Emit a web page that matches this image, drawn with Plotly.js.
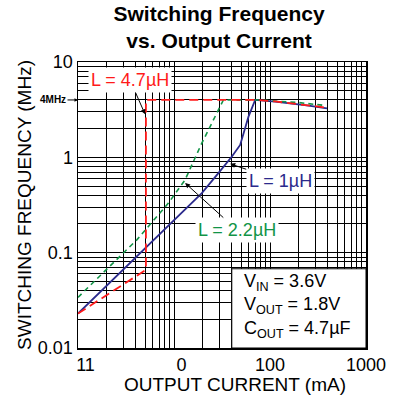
<!DOCTYPE html>
<html>
<head>
<meta charset="utf-8">
<script src="https://cdn.plot.ly/plotly-3.0.1.min.js"></script>
<style>html,body{margin:0;padding:0;background:#fff;}#chart{width:399px;height:402px;}</style>
</head>
<body>
<div id="chart"></div>
<script>
// ---- data ----
const current_1uH = [1, 6.16, 13.05, 19.5, 29.0, 40.1, 48.9, 59.7, 70.1, 113, 252, 392];
const freq_1uH    = [0.023, 0.137, 0.282, 0.422, 0.683, 1.02, 1.35, 2.67, 4.0, 3.84, 3.49, 3.27];

const current_2_2uH = [1, 4.12, 8.74, 13.05, 19.5, 24.8, 32.7, 75, 200, 376];
const freq_2_2uH    = [0.034, 0.137, 0.331, 0.581, 1.41, 2.28, 4.0, 4.0, 3.75, 3.5];

const current_4_7uH = [1, 4.65, 5.1, 5.1, 75, 113, 252, 392];
const freq_4_7uH    = [0.023, 0.063, 0.066, 4.0, 4.0, 3.86, 3.53, 3.32];

const xTickVals = [1, 10, 100, 1000];
const xTickText = ["\u00a0\u00a0\u00a011", "\u00a0\u00a0\u00a00", "100", "1000"];
const yTickVals = [0.01, 0.1, 1, 10];
const yTickText = ["0.01", "0.1", "1", "10"];
const digits = [2, 3, 4, 5, 6, 7, 8, 9];

// arrow targets (data units: mA, MHz)
const arrow47 = {x: 5.0, y: 2.83};
const arrow22 = {x: 13.06, y: 0.537};
const arrow10 = {x: 38.5, y: 0.855};
const arrow4M = {x: 1, y: 4};

// ---- minor grid positions: digits 2..9 inside each decade ----
function minorTicks(vals) {
  const tv = [];
  vals.slice(0, -1).forEach(v => digits.forEach(d => tv.push(v * d)));
  return tv;
}

const FONT = 'Liberation Sans, Arial, Helvetica, sans-serif';
const RED = '#ff1a1a', GREEN = '#129447', BLUE = '#2b2a8c';

const traces = [
  {x: current_1uH, y: freq_1uH, type: 'scatter', mode: 'lines',
   line: {color: BLUE, width: 1.8}, hoverinfo: 'skip'},
  {x: current_2_2uH, y: freq_2_2uH, type: 'scatter', mode: 'lines',
   line: {color: GREEN, width: 1.6, dash: '5px,4px'}, hoverinfo: 'skip'},
  {x: current_4_7uH, y: freq_4_7uH, type: 'scatter', mode: 'lines',
   line: {color: RED, width: 1.8, dash: '9px,5px'}, hoverinfo: 'skip'}
];

function lg(v) { return Math.log10(v); }
// label with an arrow pointing at a curve; ax/ay = pixel offset of the label from the arrow tip
function arrowLabel(text, p, ax, ay, color, opts) {
  return Object.assign({x: lg(p.x), y: lg(p.y), xref: 'x', yref: 'y', text: text, showarrow: true,
          ax: ax, ay: ay, axref: 'pixel', ayref: 'pixel', arrowhead: 2,
          arrowsize: 1, arrowwidth: 1, arrowcolor: '#000', standoff: 0,
          bgcolor: '#fff', borderpad: 2,
          font: {family: FONT, size: 18, color: color}}, opts || {});
}

function axisCommon(vals, text) {
  return {type: 'log', tickmode: 'array', tickvals: vals, ticktext: text,
          showgrid: true, gridcolor: '#000', gridwidth: 1, zeroline: false,
          minor: {tickmode: 'array', tickvals: minorTicks(vals), showgrid: true,
                  gridcolor: '#000', gridwidth: 1, ticks: ''},
          showline: true, linecolor: '#000', linewidth: 1.5, mirror: true, ticks: '',
          tickfont: {family: FONT, size: 18, color: '#000'}};
}

const xaxis = Object.assign(axisCommon(xTickVals, xTickText), {range: [0, 3]});
const yaxis = Object.assign(axisCommon(yTickVals, yTickText), {
  range: [-2, 1],
  title: {text: 'SWITCHING FREQUENCY (MHz)', standoff: 1,
          font: {family: FONT, size: 19, color: '#000'}}
});

const layout = {
  width: 399, height: 402,
  margin: {l: 78, r: 33, t: 62, b: 54},
  paper_bgcolor: '#fff', plot_bgcolor: '#fff',
  showlegend: false,
  title: {text: 'Switching Frequency<br>vs. Output Current', xref: 'paper', x: 0.49,
          yref: 'container', y: 0.949, yanchor: 'top',
          font: {family: FONT, size: 21, weight: 'bold', color: '#000'}},
  xaxis: xaxis,
  yaxis: yaxis,
  shapes: [
    {type: 'rect', xref: 'paper', yref: 'paper', x0: 0.534, x1: 1, y0: 0, y1: 0.277,
     fillcolor: '#fff', line: {color: '#000', width: 1}, layer: 'above'}
  ],
  annotations: [
    arrowLabel('L = 4.7\u00b5H', arrow47, -15, -34, RED),
    arrowLabel('L = 2.2\u00b5H', arrow22, 52, 47, GREEN),
    arrowLabel('L = 1\u00b5H', arrow10, 50, 17, BLUE),
    arrowLabel('4MHz', arrow4M, -25, 0, '#000',
               {bgcolor: 'rgba(0,0,0,0)', borderpad: 1, arrowsize: 0.7,
                font: {family: FONT, size: 10, weight: 'bold', color: '#000'}}),
    {xref: 'paper', yref: 'paper', x: 0.545, y: -0.128, xanchor: 'center', yanchor: 'middle',
     text: 'OUTPUT CURRENT (mA)', showarrow: false,
     font: {family: FONT, size: 19, color: '#000'}},
    {xref: 'paper', yref: 'paper', x: 0.569, y: 0.148, xanchor: 'left', yanchor: 'middle', align: 'left',
     text: 'V<sub>IN</sub> = 3.6V<br>V<sub>OUT</sub> = 1.8V<br>C<sub>OUT</sub> = 4.7\u00b5F',
     showarrow: false, font: {family: FONT, size: 18, color: '#000'}}
  ]
};

Plotly.newPlot('chart', traces, layout, {displayModeBar: false, staticPlot: true});
</script>
</body>
</html>
